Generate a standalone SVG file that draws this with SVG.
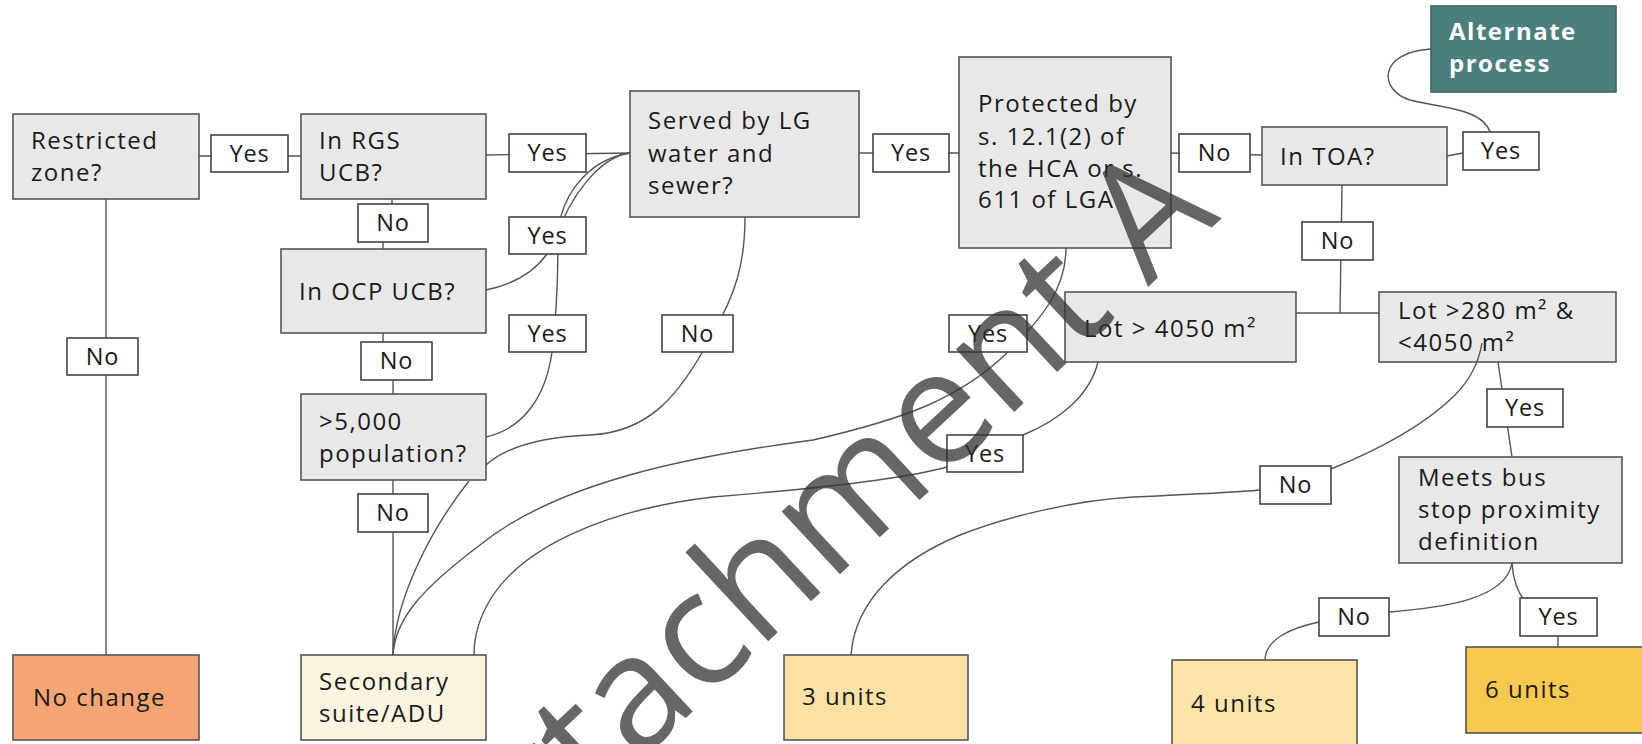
<svg xmlns="http://www.w3.org/2000/svg" width="1642" height="744" viewBox="0 0 1642 744">
<style>
.q{fill:#e8e8e8;stroke:#555;stroke-width:1.6}
.t{font-family:"Open Sans","Noto Sans","Liberation Sans",sans-serif;font-size:24px;letter-spacing:1.5px;fill:#1a1a1a}
.lb rect{fill:#fff;stroke:#444;stroke-width:1.6}
.lb text{font-family:"Open Sans","Noto Sans","Liberation Sans",sans-serif;font-size:23.5px;letter-spacing:0.8px;fill:#1a1a1a;text-anchor:middle}
.c path{fill:none;stroke:#555;stroke-width:1.4}
</style>
<rect width="1642" height="744" fill="#fff"/>
<g id="nodes">
<g id="n-restricted"><rect class="q" x="13" y="114" width="186" height="85"/><text class="t" x="31" y="149">Restricted</text><text class="t" x="31" y="181">zone?</text></g>
<g id="n-rgs"><rect class="q" x="301" y="114" width="185" height="85"/><text class="t" x="319" y="149">In RGS</text><text class="t" x="319" y="181">UCB?</text></g>
<g id="n-served"><rect class="q" x="630" y="91" width="229" height="126"/><text class="t" x="648" y="129">Served by LG</text><text class="t" x="648" y="161.5">water and</text><text class="t" x="648" y="194">sewer?</text></g>
<g id="n-protected"><rect class="q" x="959" y="57" width="212" height="191"/><text class="t" x="978" y="111.5">Protected by</text><text class="t" x="978" y="144.5">s. 12.1(2) of</text><text class="t" x="978" y="176.5">the HCA or s.</text><text class="t" x="978" y="208">611 of LGA</text></g>
<g id="n-toa"><rect class="q" x="1262" y="127" width="185" height="58"/><text class="t" x="1280" y="165">In TOA?</text></g>
<g id="n-alt"><rect x="1431" y="6" width="185" height="86" fill="#4b7e7c" stroke="#3d6664" stroke-width="1.6"/><text class="t" x="1449" y="40" style="fill:#fff;font-weight:bold">Alternate</text><text class="t" x="1449" y="72" style="fill:#fff;font-weight:bold">process</text></g>
<g id="n-ocp"><rect class="q" x="281" y="249" width="205" height="84"/><text class="t" x="299" y="300">In OCP UCB?</text></g>
<g id="n-pop"><rect class="q" x="301" y="394" width="185" height="86"/><text class="t" x="319" y="430">&gt;5,000</text><text class="t" x="319" y="461.5">population?</text></g>
<g id="n-lot4050"><rect class="q" x="1065" y="292" width="231" height="70"/><text class="t" x="1084" y="336.5">Lot &gt; 4050 m²</text></g>
<g id="n-lot280"><rect class="q" x="1379" y="292" width="237" height="70"/><text class="t" x="1398" y="319">Lot &gt;280 m²  &amp;</text><text class="t" x="1398" y="351">&lt;4050 m²</text></g>
<g id="n-meets"><rect class="q" x="1399" y="457" width="223" height="106"/><text class="t" x="1418" y="486">Meets bus</text><text class="t" x="1418" y="518">stop proximity</text><text class="t" x="1418" y="550">definition</text></g>
<g id="n-nochange"><rect x="13" y="655" width="186" height="85" fill="#f5a473" stroke="#555" stroke-width="1.6"/><text class="t" x="33" y="706">No change</text></g>
<g id="n-secondary"><rect x="301" y="655" width="185" height="85" fill="#f9f5df" stroke="#555" stroke-width="1.6"/><text class="t" x="319" y="690">Secondary</text><text class="t" x="319" y="721.5">suite/ADU</text></g>
<g id="n-3units"><rect x="784" y="655" width="184" height="85" fill="#fbe2a4" stroke="#555" stroke-width="1.6"/><text class="t" x="802" y="705">3 units</text></g>
<g id="n-4units"><rect x="1172" y="660" width="185" height="86" fill="#fde5a9" stroke="#555" stroke-width="1.6"/><text class="t" x="1191" y="711.5">4 units</text></g>
<g id="n-6units"><rect x="1466" y="647" width="180" height="86" fill="#f8c94f" stroke="#555" stroke-width="1.6"/><text class="t" x="1485" y="698">6 units</text></g>
</g>
<g id="connectors" class="c">
<path d="M199 156 L301 156"/>
<path d="M106 199 L106 655"/>
<path d="M486 155 L630 153"/>
<path d="M392 199 L392 222 L383 222 L383 249"/>
<path d="M383 333 L383 360 L393 360 L393 394"/>
<path d="M393 480 L393 655"/>
<path d="M859 153 L959 153"/>
<path d="M1171 153 L1262 155"/>
<path d="M1447 156 L1463 153"/>
<path d="M1490 132 C1482 108 1440 108 1410 100 C1378 90 1378 52 1431 49"/>
<path d="M1342 185 L1340 313"/>
<path d="M1296 313 L1379 313"/>
<path d="M1498 362 L1512 457"/>
<path d="M1512 563 C1506 600 1440 608 1389 612"/>
<path d="M1319 622 C1290 628 1265 640 1265 660"/>
<path d="M1512 563 C1513 580 1518 592 1524 600 L1558 636 L1558 647"/>
<path d="M486 290 C525 282 545 262 555 240 C570 195 600 157 630 153"/>
<path d="M486 437 C525 428 546 395 552 352 C556 320 558 280 558 240 C558 200 585 160 630 153"/>
<path d="M745 217 C745 265 735 295 712 335 C680 395 650 432 590 435 C540 437 505 448 486 465 M469 481 C430 530 395 600 393 655"/>
<path d="M1066 248 C1066 290 1040 320 1010 350 C960 400 900 420 813 440 C700 455 560 480 480 545 C420 590 395 620 393 655"/>
<path d="M1098 362 C1090 395 1060 420 1023 435 L947 467 C900 480 800 490 713 497 C600 510 520 550 490 600 C478 620 474 640 474 655"/>
<path d="M851 655 C855 600 900 560 960 535 C1010 515 1080 500 1133 497 C1200 494 1240 492 1260 490 M1331 469 C1390 445 1430 420 1455 395 C1475 375 1480 355 1482 343"/>
</g>
<g id="labels" class="lb">
<g><rect x="211" y="135" width="77" height="37"/><text x="249.5" y="161.5">Yes</text></g>
<g><rect x="67" y="338" width="71" height="37"/><text x="102.5" y="364.5">No</text></g>
<g><rect x="509" y="134" width="77" height="38"/><text x="547.5" y="161">Yes</text></g>
<g><rect x="358" y="204" width="70" height="38"/><text x="393" y="231">No</text></g>
<g><rect x="509" y="217" width="77" height="37"/><text x="547.5" y="243.5">Yes</text></g>
<g><rect x="361" y="342" width="71" height="38"/><text x="396.5" y="369">No</text></g>
<g><rect x="509" y="315" width="77" height="37"/><text x="547.5" y="341.5">Yes</text></g>
<g><rect x="662" y="315" width="71" height="37"/><text x="697.5" y="341.5">No</text></g>
<g><rect x="358" y="494" width="70" height="38"/><text x="393" y="521">No</text></g>
<g><rect x="873" y="134" width="76" height="38"/><text x="911" y="161">Yes</text></g>
<g><rect x="1179" y="134" width="71" height="38"/><text x="1214.5" y="161">No</text></g>
<g><rect x="1463" y="132" width="76" height="38"/><text x="1501" y="159">Yes</text></g>
<g><rect x="1302" y="222" width="71" height="38"/><text x="1337.5" y="249">No</text></g>
<g><rect x="949" y="315" width="78" height="37"/><text x="988" y="341.5">Yes</text></g>
<g><rect x="947" y="435" width="76" height="37"/><text x="985" y="461.5">Yes</text></g>
<g><rect x="1260" y="466" width="71" height="38"/><text x="1295.5" y="493">No</text></g>
<g><rect x="1487" y="389" width="76" height="38"/><text x="1525" y="416">Yes</text></g>
<g><rect x="1319" y="598" width="70" height="38"/><text x="1354" y="625">No</text></g>
<g><rect x="1520" y="598" width="77" height="38"/><text x="1558.5" y="625">Yes</text></g>
</g>
<text transform="translate(1222 218) rotate(-43)" text-anchor="end" font-family="Open Sans, sans-serif" font-size="160" fill="#333" fill-opacity="0.75">Attachment A</text>
</svg>
